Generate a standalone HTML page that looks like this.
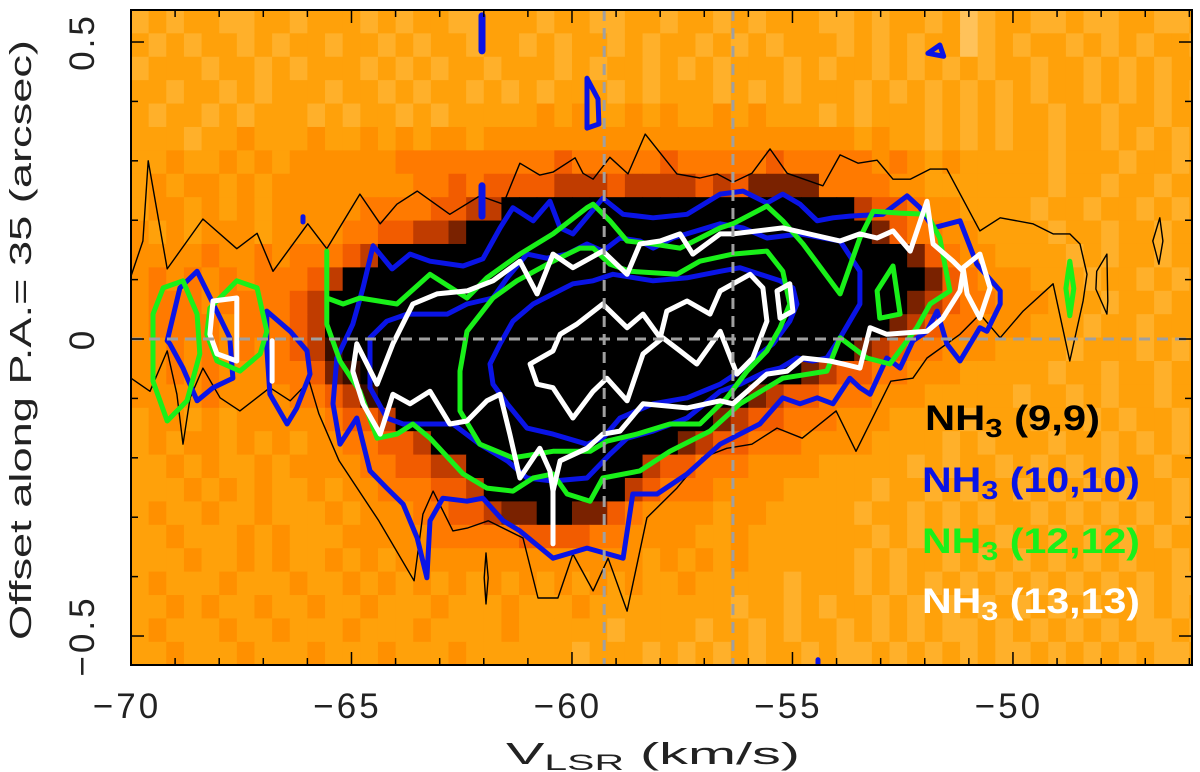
<!DOCTYPE html>
<html><head><meta charset="utf-8"><style>
html,body{margin:0;padding:0;background:#fff;}
svg{display:block;font-family:"Liberation Sans",sans-serif;}
</style></head><body>
<svg id="chart" width="1200" height="772" viewBox="0 0 1200 772" xmlns="http://www.w3.org/2000/svg">
<defs><clipPath id="plotclip"><rect x="131" y="10" width="1061" height="655"/></clipPath></defs>
<g id="heat" clip-path="url(#plotclip)"></g>
<g id="contours" clip-path="url(#plotclip)"></g>
<g id="refs" clip-path="url(#plotclip)"></g>
<rect x="131" y="10" width="1061" height="655" fill="none" stroke="#000" stroke-width="2"/>
<g id="ticks"></g>
<g id="ticklabels" font-size="35" fill="#222"></g>
<text transform="translate(31,340) rotate(-90)" text-anchor="middle" font-size="31" fill="#222" textLength="600" lengthAdjust="spacingAndGlyphs">Offset along P.A.= 35 (arcsec)</text>
<text x="506" y="764" font-size="31" fill="#222" textLength="294" lengthAdjust="spacingAndGlyphs">V<tspan font-size="22" dy="6">LSR</tspan><tspan dy="-6"> (km/s)</tspan></text>
<g font-weight="bold" font-size="35">
<text x="925" y="430" fill="#000" textLength="175" lengthAdjust="spacingAndGlyphs">NH<tspan font-size="26" dy="7">3</tspan><tspan dy="-7"> (9,9)</tspan></text>
<text x="922" y="492" fill="#0a14e6" textLength="218" lengthAdjust="spacingAndGlyphs">NH<tspan font-size="26" dy="7">3</tspan><tspan dy="-7"> (10,10)</tspan></text>
<text x="922" y="553" fill="#19f019" textLength="218" lengthAdjust="spacingAndGlyphs">NH<tspan font-size="26" dy="7">3</tspan><tspan dy="-7"> (12,12)</tspan></text>
<text x="922" y="613" fill="#ffffff" textLength="218" lengthAdjust="spacingAndGlyphs">NH<tspan font-size="26" dy="7">3</tspan><tspan dy="-7"> (13,13)</tspan></text>
</g>
</svg>
<script>
// ---- heatmap data (levels 0..9, rows top->bottom, 0.4 km/s columns) ----
const heatRows = [
"1212211221 2221212211 2221221122 1221212221 1212212012 2112112211 2",
"2121221212 2122121221 2212122121 2212121222 1212122012 1221212122 1",
"1222122121 2221212122 1222121221 2121222121 2212121212 2122121212 2",
"2212212122 2122121221 2121222121 2221212122 2121212121 2122121212 1",
"2122121222 1212212122 2223232232 3223232221 2122212121 2212212212 2",
"2221223222 3223232332 3333333333 3333333333 3232212121 2212212121 2",
"2232232323 3333344444 4444544444 5444445444 4434323222 2212221221 2",
"2323323233 3333334454 5555666566 6656577774 4443322222 2212212212 2",
"2332323233 3334444556 6999999999 9999999999 9655433222 2122122121 2",
"3232333233 3344556679 9999999999 9999999999 9975443322 2212212212 2",
"3333433434 4456999999 9999999999 9999999999 9999754332 2221212212 2",
"3434343444 5699999999 9999999999 9999999999 9999975433 3222122121 2",
"3444344445 6999999999 9999999999 9999999999 9999765443 3322212212 2",
"3444434445 6999999999 9999999999 9999999999 9997654433 3222122122 2",
"3343434345 6899999999 9999999999 9999999999 9765443332 2221222121 2",
"3343433344 5789999999 9999999999 9999999976 5544333222 2212212212 2",
"3333433334 4568999999 9999999999 9999976554 4433322222 1221212212 2",
"2332323333 3455699999 9999999999 9997655444 3332222122 2122121221 2",
"2323323232 3344556999 9999999999 9765544433 3322221212 2212212121 2",
"2232322323 3334455669 9999999996 5544433332 2222121221 2121212212 2",
"2223232322 3233444556 9999999965 4443333222 2212212122 1212121221 2",
"2322322322 2323334455 6779977543 3332332222 2122121212 2121212121 2",
"2232223232 2233333444 4455554433 3322322222 2212121221 2212121212 2",
"2223223232 2323233333 3333333332 3232322222 2121221212 1212121221 2",
"2322232223 2232323232 3232323232 2322222122 2121212121 2121212121 1",
"2232322322 3223222322 2322232222 2222122121 2212121212 1212122121 2",
"2322232232 2232223222 2322222122 2212212122 1212121121 2121212112 1",
"2232223222 3222322232 2222212221 2121212212 1121212121 1212121211 2"
];
const heatV0 = -70, heatDV = 0.4, heatO0 = 0.554, heatDO = 0.0394;

// ---- axis ticks ----
const xMajorTicks = [-70, -65, -60, -55, -50];
const xTickLabels = ["\u221270", "\u221265", "\u221260", "\u221255", "\u221250"];
const xMinorTicks = [-69,-68,-67,-66,-64,-63,-62,-61,-59,-58,-57,-56,-54,-53,-52,-51,-49,-48,-47,-46];
const yMajorTicks = [-0.5, 0, 0.5];
const yTickLabels = ["\u22120.5", "0", "0.5"];
const yMinorTicks = [-0.4,-0.3,-0.2,-0.1,0.1,0.2,0.3,0.4];
const refVelocities = [-59.27, -56.35];
const refOffsets = [0];

// ---- contours [velocity km/s, offset arcsec] ----
const nh99Outer = [[-70.00,-.066],[-69.57,-.088],[-69.18,-.020],[-68.96,-.093],[-68.82,-.177],[-68.66,-.099],[-68.37,-.049],[-67.98,-.099],[-67.53,-.121],[-66.85,-.082],[-66.39,-.104],[-65.96,-.071],[-65.74,-.126],[-65.28,-.205],[-64.38,-.306],[-63.58,-.407],[-63.38,-.295],[-63.15,-.256],[-62.70,-.323],[-62.36,-.318],[-61.90,-.306],[-61.11,-.335],[-60.77,-.436],[-60.32,-.436],[-59.98,-.362],[-59.52,-.424],[-59.18,-.369],[-58.75,-.458],[-58.30,-.301],[-57.62,-.251],[-57.05,-.200],[-56.49,-.184],[-55.92,-.177],[-55.35,-.150],[-54.78,-.167],[-54.01,-.121],[-53.56,-.189],[-52.77,-.071],[-52.27,-.066],[-51.95,-.032],[-51.20,.008],[-50.75,.042],[-50.29,.002],[-49.77,.047],[-49.09,.093],[-48.71,-.037],[-48.41,.064],[-48.32,.109],[-48.48,.160],[-48.71,.177],[-49.09,.177],[-49.55,.194],[-50.29,.204],[-50.75,.182],[-51.50,.286],[-51.88,.286],[-52.33,.269],[-52.72,.269],[-53.08,.301],[-53.51,.296],[-53.92,.310],[-54.31,.258],[-55.12,.279],[-55.51,.320],[-55.92,.279],[-56.35,.264],[-56.71,.278],[-57.10,.271],[-57.62,.278],[-58.34,.345],[-58.73,.278],[-59.14,.306],[-59.52,.269],[-59.75,.279],[-59.93,.305],[-60.43,.281],[-60.73,.276],[-61.18,.296],[-61.56,.227],[-62.09,.241],[-62.77,.210],[-63.51,.249],[-63.97,.227],[-64.35,.194],[-64.81,.244],[-65.56,.152],[-65.99,.194],[-66.78,.114],[-67.14,.178],[-67.60,.152],[-68.37,.202],[-69.18,.118],[-69.61,.300],[-69.73,.165],[-70.00,.106]];
const nh99IslandA = [[-46.67,.204],[-46.60,.165],[-46.69,.126],[-46.83,.165],[-46.67,.204]];
const nh99IslandB = [[-48.10,.114],[-47.87,.143],[-47.85,.064],[-47.87,.042],[-48.12,.084],[-48.10,.114]];
const nh99IslandC = [[-61.95,-.360],[-61.90,-.402],[-61.95,-.446],[-61.99,-.402],[-61.95,-.360]];

const nh1010Outer = [[-64.51,.157],[-64.08,.118],[-63.67,.143],[-63.22,.131],[-62.47,.123],[-62.02,.135],[-61.63,.187],[-61.34,.221],[-60.88,.199],[-60.50,.232],[-60.27,.187],[-59.98,.177],[-59.30,.237],[-58.84,.210],[-58.16,.204],[-57.39,.210],[-56.64,.244],[-56.12,.249],[-55.58,.229],[-55.22,.244],[-54.83,.227],[-54.44,.199],[-54.08,.204],[-53.70,.207],[-52.95,.210],[-52.40,.241],[-52.11,.221],[-51.81,.187],[-51.20,.199],[-50.82,.126],[-50.29,.081],[-50.29,.059],[-50.59,.013],[-50.75,.019],[-51.20,-.037],[-51.50,-.008],[-51.72,.047],[-51.95,.013],[-52.27,-.003],[-52.56,-.049],[-52.86,-.032],[-53.24,-.093],[-53.47,-.082],[-53.70,-.066],[-54.08,-.109],[-54.44,-.099],[-54.83,-.109],[-55.22,-.099],[-55.74,-.143],[-56.64,-.177],[-57.39,-.227],[-58.07,-.261],[-58.62,-.261],[-58.84,-.369],[-59.66,-.352],[-60.43,-.369],[-61.18,-.323],[-61.56,-.306],[-62.02,-.268],[-62.38,-.273],[-62.93,-.268],[-63.22,-.306],[-63.29,-.402],[-63.51,-.335],[-63.83,-.278],[-64.20,-.251],[-64.58,-.222],[-64.88,-.133],[-65.26,-.177],[-65.42,-.109],[-65.33,-.032],[-64.97,.025],[-64.74,.086],[-64.51,.157]];
const nh1010Mid = [[-64.58,.002],[-64.20,.030],[-63.74,.042],[-62.83,.042],[-62.38,.059],[-61.79,.069],[-61.47,.103],[-61.02,.143],[-60.57,.136],[-60.11,.143],[-59.66,.160],[-59.30,.148],[-58.91,.170],[-58.46,.165],[-58.16,.153],[-57.71,.170],[-56.64,.194],[-56.12,.187],[-55.58,.170],[-54.83,.177],[-53.92,.165],[-53.47,.114],[-53.47,.059],[-53.70,.030],[-53.92,.002],[-54.22,-.032],[-54.54,-.037],[-54.90,-.032],[-55.28,-.049],[-55.58,-.054],[-56.19,-.076],[-56.64,-.088],[-57.39,-.133],[-58.16,-.155],[-58.75,-.167],[-59.14,-.194],[-59.66,-.234],[-60.43,-.239],[-61.02,-.234],[-61.47,-.205],[-62.09,-.177],[-62.70,-.143],[-63.06,-.143],[-63.83,-.143],[-64.20,-.133],[-64.58,-.082],[-64.58,.002]];
const nh1010Inner = [[-61.63,-.008],[-61.34,.030],[-60.88,.059],[-60.43,.076],[-59.98,.093],[-59.52,.098],[-59.07,.109],[-58.16,.098],[-57.39,.103],[-56.64,.114],[-56.19,.120],[-55.28,.098],[-54.99,.086],[-54.90,.059],[-55.06,.030],[-55.44,-.008],[-55.74,-.025],[-56.19,-.054],[-56.64,-.076],[-57.39,-.099],[-58.16,-.109],[-58.91,-.133],[-59.30,-.167],[-59.66,-.177],[-60.43,-.160],[-61.02,-.150],[-61.47,-.109],[-61.79,-.076],[-61.86,-.042],[-61.63,-.008]];
const nh1010BlobA = [[-69.18,-.003],[-68.89,.086],[-68.50,.114],[-68.28,.081],[-67.76,.002],[-67.69,-.066],[-68.14,-.082],[-68.50,-.104],[-68.82,-.049],[-69.12,-.008],[-69.18,-.003]];
const nh1010BlobB = [[-66.92,.047],[-66.39,.013],[-66.01,-.020],[-65.94,-.059],[-66.24,-.116],[-66.46,-.143],[-66.85,-.093],[-66.92,-.015],[-66.92,.047]];
const nh1010BlobC = [[-59.66,.439],[-59.41,.404],[-59.39,.362],[-59.66,.355],[-59.66,.439]];
const nh1010BlobD = [[-51.93,.481],[-51.66,.495],[-51.57,.476],[-51.93,.481]];
const nh1010SpikeA = [[-62.04,.544],[-62.04,.485]];
const nh1010SpikeB = [[-62.04,.258],[-62.04,.207]];
const nh1010SpikeC = [[-66.10,.206],[-66.10,.197]];
const nh1010SpikeD = [[-54.42,-.540],[-54.42,-.555]];

const nh1212Outer = [[-65.56,.148],[-65.56,.069],[-65.19,.059],[-64.81,.069],[-63.97,.059],[-63.22,.109],[-62.38,.069],[-61.93,.103],[-61.18,.143],[-60.43,.177],[-59.66,.221],[-59.52,.227],[-59.14,.199],[-58.75,.165],[-58.16,.160],[-57.55,.153],[-56.64,.187],[-56.35,.194],[-55.58,.224],[-55.22,.199],[-54.76,.160],[-53.92,.076],[-53.47,.170],[-53.17,.215],[-52.56,.212],[-51.95,.210],[-51.66,.170],[-51.43,.081],[-51.88,.059],[-52.18,.019],[-52.79,-.042],[-53.31,-.032],[-53.92,.002],[-54.22,-.054],[-55.22,-.066],[-56.19,-.109],[-56.87,-.155],[-57.78,-.189],[-58.46,-.222],[-59.30,-.234],[-59.59,-.273],[-60.11,-.261],[-60.43,-.227],[-60.88,-.234],[-61.34,-.256],[-61.93,-.251],[-62.47,-.227],[-63.22,-.167],[-63.61,-.143],[-63.97,-.160],[-64.42,-.167],[-64.81,-.088],[-65.26,-.037],[-65.56,.025],[-65.56,.148]];
const nh1212Inner = [[-62.54,-.054],[-62.38,.013],[-61.79,.069],[-61.25,.098],[-60.43,.131],[-59.82,.153],[-59.52,.153],[-59.14,.126],[-58.68,.114],[-57.62,.109],[-57.10,.131],[-56.35,.143],[-55.58,.148],[-55.22,.114],[-55.06,.059],[-55.28,.019],[-55.58,-.020],[-56.03,-.054],[-56.49,-.099],[-57.10,-.143],[-57.78,-.143],[-58.53,-.160],[-59.21,-.172],[-59.59,-.189],[-60.43,-.189],[-61.34,-.200],[-62.09,-.177],[-62.54,-.121],[-62.54,-.054]];
const nh1212BlobA = [[-52.72,.123],[-52.56,.042],[-53.02,.035],[-53.08,.081],[-52.72,.123]];
const nh1212BlobB = [[-69.27,.086],[-68.82,.098],[-68.50,.042],[-68.44,-.025],[-68.73,-.104],[-69.18,-.138],[-69.50,-.071],[-69.50,.042],[-69.27,.086]];
const nh1212BlobC = [[-68.21,.052],[-67.60,.098],[-67.14,.086],[-66.92,.013],[-67.07,-.025],[-67.53,-.054],[-68.05,-.037],[-68.28,.008],[-68.21,.052]];
const nh1212BlobD = [[-48.71,.131],[-48.62,.085],[-48.71,.039],[-48.80,.085],[-48.71,.131]];

const nh1313Outer = [[-64.88,-.008],[-64.42,-.076],[-64.06,-.008],[-63.61,.059],[-63.06,.076],[-62.38,.081],[-61.79,.098],[-61.18,.131],[-60.79,.076],[-60.43,.143],[-59.98,.120],[-59.30,.148],[-58.75,.109],[-58.46,.160],[-58.00,.165],[-57.55,.177],[-57.26,.143],[-56.64,.177],[-56.35,.177],[-55.22,.187],[-53.92,.165],[-53.47,.177],[-53.08,.170],[-52.72,.182],[-52.33,.148],[-51.95,.232],[-51.81,.160],[-51.36,.131],[-51.13,.114],[-51.20,.081],[-51.59,.035],[-51.95,.013],[-52.86,.008],[-53.24,.019],[-53.47,-.049],[-53.85,-.042],[-54.15,-.037],[-54.76,-.032],[-55.12,-.054],[-55.58,-.059],[-56.35,-.109],[-56.64,-.104],[-57.39,-.116],[-58.39,-.109],[-58.91,-.155],[-59.30,-.160],[-59.66,-.184],[-60.27,-.205],[-60.43,-.256],[-60.50,-.222],[-60.73,-.184],[-61.18,-.234],[-61.41,-.160],[-61.63,-.093],[-61.93,-.104],[-62.38,-.138],[-62.77,-.143],[-63.22,-.088],[-63.67,-.109],[-64.06,-.093],[-64.35,-.160],[-64.74,-.109],[-64.97,-.054],[-64.88,-.008]];
const nh1313Inner = [[-60.95,-.042],[-60.43,-.020],[-60.27,.008],[-59.89,.025],[-59.30,.059],[-58.75,.019],[-58.39,.042],[-58.00,.002],[-57.85,.047],[-57.39,.064],[-56.87,.042],[-56.64,.081],[-55.96,.109],[-55.67,.086],[-55.58,.030],[-55.90,-.032],[-56.26,-.059],[-56.64,.013],[-57.17,-.042],[-57.55,-.020],[-57.94,.002],[-58.39,-.025],[-58.75,-.104],[-59.21,-.066],[-59.52,-.088],[-59.98,-.133],[-60.43,-.082],[-60.79,-.076],[-60.95,-.042]];
const nh1313BlobA = [[-51.13,.120],[-50.75,.143],[-50.52,.086],[-50.75,.035],[-51.04,.076],[-51.13,.120]];
const nh1313BlobB = [[-68.14,.064],[-67.60,.069],[-67.60,-.037],[-68.05,-.025],[-68.21,.008],[-68.14,.064]];
const nh1313BlobC = [[-55.35,.081],[-55.06,.093],[-54.99,.047],[-55.28,.035],[-55.35,.081]];
const nh1313SpikeA = [[-60.43,-.256],[-60.43,-.345]];
const nh1313SpikeB = [[-66.80,-.003],[-66.80,-.071]];

// ---- axes ----
const X0 = 131, X1 = 1192, Y0 = 10, Y1 = 665;
const V_MIN = -70, V_MAX = -45.94, O_MAX = 0.5539, O_MIN = -0.5488;
function xScale(v){ return X0 + (v - V_MIN) / (V_MAX - V_MIN) * (X1 - X0); }
function yScale(o){ return Y0 + (O_MAX - o) / (O_MAX - O_MIN) * (Y1 - Y0); }

const NS = "http://www.w3.org/2000/svg";
function mk(tag, parent){ const e = document.createElementNS(NS, tag); parent.appendChild(e); return e; }

const heatColors = ["#ffc25a","#ffb02a","#ffa10a","#ff9000","#ff7a00","#f25c00","#c03c00","#7a2200","#3a0e00","#000000"];
const heatG = document.getElementById("heat");
heatRows.forEach(function(rowStr, r){
  const row = rowStr.replace(/ /g, "");
  for (let c = 0; c < row.length; c++) {
    const v0 = heatV0 + c * heatDV, o0 = heatO0 - r * heatDO;
    const x = xScale(v0), y = yScale(o0);
    const w = xScale(v0 + heatDV) - x + 0.6, h = yScale(o0 - heatDO) - y + 0.6;
    const cell = mk("rect", heatG);
    
    
    cell.setAttribute("x", x.toFixed(2)); cell.setAttribute("y", y.toFixed(2));
    cell.setAttribute("width", w.toFixed(2)); cell.setAttribute("height", h.toFixed(2));
    cell.setAttribute("fill", heatColors[+row[c]]);
  }
});

const contG = document.getElementById("contours");
function drawContour(pts, color, width, name){
  const p = mk("polyline", contG);
  
  
  p.setAttribute("points", pts.map(function(d){ return xScale(d[0]).toFixed(1) + "," + yScale(d[1]).toFixed(1); }).join(" "));
  p.setAttribute("fill", "none");
  p.setAttribute("stroke", color);
  p.setAttribute("stroke-width", width);
  p.setAttribute("stroke-linejoin", "round");
  p.setAttribute("stroke-linecap", "round");
}
const K = "#000", B = "#0a14e6", G = "#19f019", W = "#ffffff";
drawContour(nh99Outer, K, 1.4, "contour-nh3-9-9");
drawContour(nh99IslandA, K, 1.4, "contour-nh3-9-9-island");
drawContour(nh99IslandB, K, 1.4, "contour-nh3-9-9-island");
drawContour(nh99IslandC, K, 1.4, "contour-nh3-9-9-island");
[nh1010Outer, nh1010Mid, nh1010Inner, nh1010BlobA, nh1010BlobB, nh1010BlobC, nh1010BlobD].forEach(function(c){ drawContour(c, B, 5, "contour-nh3-10-10"); });
[nh1010SpikeA, nh1010SpikeB].forEach(function(c){ drawContour(c, B, 7, "contour-nh3-10-10-spot"); });
[nh1010SpikeC, nh1010SpikeD].forEach(function(c){ drawContour(c, B, 5, "contour-nh3-10-10-spot"); });
[nh1212Outer, nh1212Inner, nh1212BlobA, nh1212BlobB, nh1212BlobC, nh1212BlobD].forEach(function(c){ drawContour(c, G, 5, "contour-nh3-12-12"); });
[nh1313Outer, nh1313Inner, nh1313BlobA, nh1313BlobB, nh1313BlobC].forEach(function(c){ drawContour(c, W, 5, "contour-nh3-13-13"); });
[nh1313SpikeA, nh1313SpikeB].forEach(function(c){ drawContour(c, W, 5, "contour-nh3-13-13-spot"); });

const refG = document.getElementById("refs");
refVelocities.forEach(function(v){
  const l = mk("line", refG);
  
  
  l.setAttribute("x1", xScale(v)); l.setAttribute("x2", xScale(v));
  l.setAttribute("y1", Y0); l.setAttribute("y2", Y1);
  l.setAttribute("stroke", "#a0a0a0"); l.setAttribute("stroke-width", 3); l.setAttribute("stroke-dasharray", "11,7");
});
refOffsets.forEach(function(o){
  const l = mk("line", refG);
  
  
  l.setAttribute("x1", X0); l.setAttribute("x2", X1);
  l.setAttribute("y1", yScale(o)); l.setAttribute("y2", yScale(o));
  l.setAttribute("stroke", "#a0a0a0"); l.setAttribute("stroke-width", 3); l.setAttribute("stroke-dasharray", "11,7");
});

const tickG = document.getElementById("ticks");
function tick(x1, y1, x2, y2, name){
  const l = mk("line", tickG);
  
  
  l.setAttribute("x1", x1); l.setAttribute("y1", y1); l.setAttribute("x2", x2); l.setAttribute("y2", y2);
  l.setAttribute("stroke", "#000"); l.setAttribute("stroke-width", 1.5);
}
xMajorTicks.forEach(function(v){ const x = xScale(v); tick(x, Y1, x, Y1 - 13, "x-major-tick"); tick(x, Y0, x, Y0 + 13, "x-major-tick"); });
xMinorTicks.forEach(function(v){ const x = xScale(v); tick(x, Y1, x, Y1 - 7, "x-minor-tick"); tick(x, Y0, x, Y0 + 7, "x-minor-tick"); });
yMajorTicks.forEach(function(o){ const y = yScale(o); tick(X0, y, X0 + 13, y, "y-major-tick"); tick(X1, y, X1 - 13, y, "y-major-tick"); });
yMinorTicks.forEach(function(o){ const y = yScale(o); tick(X0, y, X0 + 7, y, "y-minor-tick"); tick(X1, y, X1 - 7, y, "y-minor-tick"); });

const tlG = document.getElementById("ticklabels");
xMajorTicks.forEach(function(v, i){
  const t = mk("text", tlG);
  
  
  t.setAttribute("x", xScale(v) - 4); t.setAttribute("y", 718);
  t.setAttribute("text-anchor", "middle");
  t.setAttribute("letter-spacing", "3");
  t.textContent = xTickLabels[i];
});
yMajorTicks.forEach(function(o, i){
  const t = mk("text", tlG);
  
  
  t.setAttribute("transform", "translate(94," + yScale(o) + ") rotate(-90)");
  t.setAttribute("text-anchor", "middle");
  t.setAttribute("letter-spacing", "3");
  t.textContent = yTickLabels[i];
});
</script>
</body></html>
